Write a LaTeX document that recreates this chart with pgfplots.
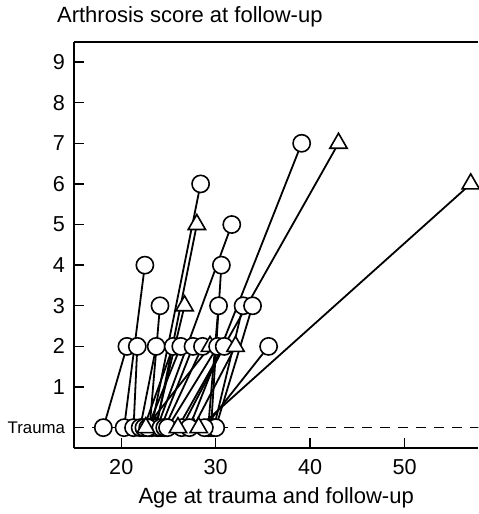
\documentclass[border=0pt]{standalone}
\usepackage{pgfplots}
\pgfplotsset{compat=1.18}
\usepackage{fontspec}
\setmainfont{Liberation Sans}
\begin{document}
\begin{tikzpicture}
\begin{axis}[
  name=ax, at={(0,0)}, anchor=south west,
  scale only axis, width=202pt, height=203pt,
  xmin=15, xmax=57.8, ymin=-0.5, ymax=9.5,
  axis x line*=box, axis y line*=left,
  xtick pos=bottom, ytick pos=left,
  tick align=inside, major tick length=5pt,
  axis line style={line width=0.8pt}, tick style={line width=0.7pt, black},
  xtick={20,30,40,50}, ytick={0,1,2,3,4,5,6,7,8,9},
  yticklabels={{\fontsize{8.4}{10}\selectfont Trauma},1,2,3,4,5,6,7,8,9},
  /pgf/number format/assume math mode=true,
  ticklabel style={font=\fontsize{10.8}{12}\selectfont},
  xticklabel style={yshift=-2pt},
  yticklabel style={xshift=-1pt},
  xlabel={Age at trauma and follow-up},
  xlabel style={font=\fontsize{11}{13}\selectfont, yshift=0.5pt},
  title={Arthrosis score at follow-up},
  title style={font=\fontsize{11}{13}\selectfont, anchor=base west, at={(rel axis cs:0,1)}, xshift=-12pt, yshift=3.5pt},
  pc/.style={black, line width=0.9pt, mark=*, mark size=4.3pt, mark options={draw=black, fill=white, line width=0.8pt}},
  pt/.style={black, line width=0.9pt, mark=triangle*, mark size=5pt, mark options={draw=black, fill=white, line width=0.8pt}},
]
\addplot[black, line width=0.7pt, dash pattern=on 5pt off 4pt] coordinates {(15,0) (58,0)};
\addplot[pc] coordinates {(18.1,0) (20.6,2)};
\addplot[pc] coordinates {(20.3,0) (22.5,4)};
\addplot[pc] coordinates {(21.3,0) (21.7,2)};
\addplot[pc] coordinates {(22.0,0) (23.7,2)};
\addplot[pc] coordinates {(23.0,0) (24.1,3)};
\addplot[pc] coordinates {(23.2,0) (28.4,6)};
\addplot[pt] coordinates {(23.7,0) (28.0,5)};
\addplot[pt] coordinates {(23.6,0) (26.7,3)};
\addplot[pc] coordinates {(23.8,0) (31.7,5)};
\addplot[pc] coordinates {(22.4,0) (25.5,2)};
\addplot[pc] coordinates {(22.8,0) (26.3,2)};
\addplot[pc] coordinates {(24.2,0) (27.6,2)};
\addplot[pc] coordinates {(24.6,0) (28.6,2)};
\addplot[pt] coordinates {(22.6,0) (29.4,2)};
\addplot[pc] coordinates {(24.9,0) (30.2,2)};
\addplot[pc] coordinates {(26.4,0) (30.9,2)};
\addplot[pt] coordinates {(27.6,0) (32.1,2)};
\addplot[pc] coordinates {(29.5,0) (30.6,4)};
\addplot[pc] coordinates {(29.2,0) (30.3,3)};
\addplot[pc] coordinates {(29.8,0) (32.9,3)};
\addplot[pc] coordinates {(30.0,0) (33.9,3)};
\addplot[pc] coordinates {(28.8,0) (35.6,2)};
\addplot[pc] coordinates {(27.2,0) (39.1,7)};
\addplot[pt] coordinates {(26.0,0) (43.0,7)};
\addplot[pt] coordinates {(28.2,0) (57.0,6)};
\end{axis}
\pgfresetboundingbox
\path (-37pt,-33pt) rectangle (202pt,223.85pt);
\end{tikzpicture}
\end{document}
